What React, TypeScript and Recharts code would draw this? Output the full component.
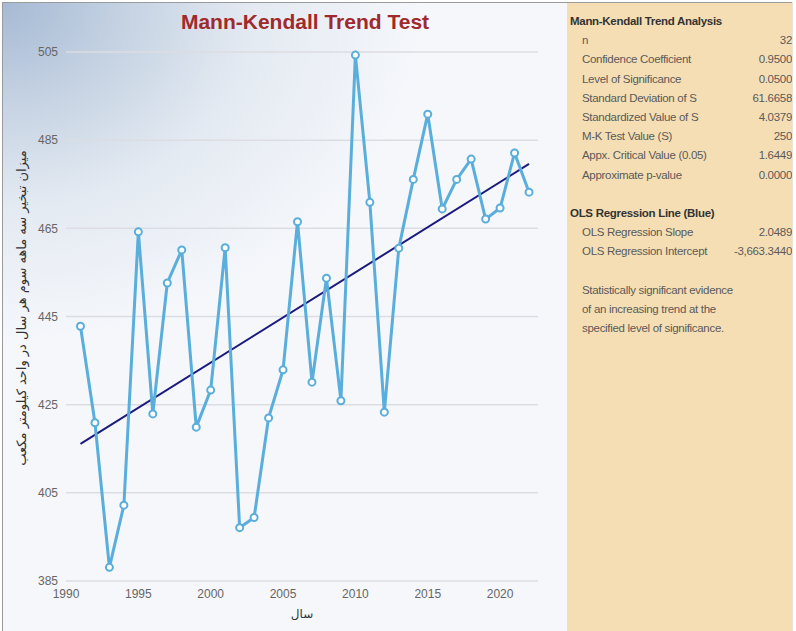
import { LineChart, Line, XAxis, YAxis, CartesianGrid } from "recharts";

// third-quarter evaporation, one point per year
const years = [
  1991, 1992, 1993, 1994, 1995, 1996, 1997, 1998, 1999, 2000, 2001, 2002,
  2003, 2004, 2005, 2006, 2007, 2008, 2009, 2010, 2011, 2012, 2013, 2014,
  2015, 2016, 2017, 2018, 2019, 2020, 2021, 2022,
];
const evaporation = [
  442.8, 420.9, 388.1, 402.2, 464.2, 422.9, 452.6, 460.1, 419.9, 428.3,
  460.6, 397.1, 399.4, 422.0, 432.9, 466.5, 430.1, 453.7, 425.9, 504.3,
  470.9, 423.3, 460.5, 476.1, 490.9, 469.4, 476.1, 480.7, 467.1, 469.6,
  482.1, 473.2,
];
// OLS line ends (first and last year)
const trendYears = [1991, 2022];
const trendValues = [416.1, 479.6];

const xTicks = [1990, 1995, 2000, 2005, 2010, 2015, 2020];
const yTicks = [385, 405, 425, 445, 465, 485, 505];

const mkRows: [string, string][] = [
  ["n", "32"],
  ["Confidence Coefficient", "0.9500"],
  ["Level of Significance", "0.0500"],
  ["Standard Deviation of S", "61.6658"],
  ["Standardized Value of S", "4.0379"],
  ["M-K Test Value (S)", "250"],
  ["Appx. Critical Value (0.05)", "1.6449"],
  ["Approximate p-value", "0.0000"],
];
const olsRows: [string, string][] = [
  ["OLS Regression Slope", "2.0489"],
  ["OLS Regression Intercept", "-3,663.3440"],
];
const note = [
  "Statistically significant evidence",
  "of an increasing trend at the",
  "specified level of significance.",
];

const data = years.map((year, i) => {
  const t = trendYears.indexOf(year);
  return { year, value: evaporation[i], trend: t >= 0 ? trendValues[t] : null };
});

const font = "'Liberation Sans', Arial, sans-serif";
const tick = { fontSize: 12, fill: "#666", fontFamily: font };
const LH = 19.2;

function Row({ label, value }: { label: string; value: string }) {
  return (
    <div style={{ display: "flex", justifyContent: "space-between", height: LH, lineHeight: LH + "px", paddingLeft: 12, color: "#5a5a5a" }}>
      <span>{label}</span>
      <span>{value}</span>
    </div>
  );
}

export default function App() {
  return (
    <div style={{ position: "absolute", left: 0, top: 0, width: 796, height: 631, background: "#fff", overflow: "hidden" }}>
      <div
        style={{
          position: "absolute",
          left: 2,
          top: 2,
          width: 565,
          height: 629,
          borderLeft: "1px solid #9a9a9a",
          borderTop: "1px solid #9a9a9a",
          boxSizing: "border-box",
          background:
            "radial-gradient(ellipse 420px 340px at 0 0, #a6bad4 0%, #c6d3e3 30%, #e4eaf2 60%, #f5f7fb 100%)",
        }}
      />
      <div style={{ position: "absolute", left: 0, top: 0 }}>
        <LineChart width={566} height={631} data={data} margin={{ top: 52, right: 28, bottom: 0, left: 0 }}>
          <text x={305} y={29} textAnchor="middle" fontFamily={font} fontWeight="bold" fontSize={21} fill="#a0292c">
            Mann-Kendall Trend Test
          </text>
          <CartesianGrid vertical={false} stroke="#dcdde2" strokeWidth={1.5} />
          <XAxis
            type="number"
            dataKey="year"
            domain={[1990, 2022.62]}
            ticks={xTicks}
            height={50}
            axisLine={false}
            tickLine={false}
            tick={tick}
            label={{
              content: () => (
                <text x={302} y={618} textAnchor="middle" fontFamily="'DejaVu Sans', sans-serif" fontSize={12} fill="#333">
                  سال
                </text>
              ),
            }}
          />
          <YAxis
            type="number"
            domain={[385, 505]}
            ticks={yTicks}
            width={66}
            axisLine={false}
            tickLine={false}
            tick={tick}
            label={{
              content: () => (
                <text
                  x={21}
                  y={308}
                  transform="rotate(-90 21 308)"
                  textAnchor="middle"
                  dominantBaseline="central"
                  fontFamily="'DejaVu Sans', sans-serif"
                  fontSize={13}
                  fill="#333"
                >
                  میزان تبخیر سه ماهه سوم هر سال در واحد کیلومتر مکعب
                </text>
              ),
            }}
          />
          <Line
            dataKey="trend"
            stroke="#1b1b7e"
            strokeWidth={2}
            dot={false}
            connectNulls
            isAnimationActive={false}
          />
          <Line
            dataKey="value"
            stroke="#5aaedb"
            strokeWidth={3}
            dot={{ r: 3.5, fill: "#fff", stroke: "#5aaedb", strokeWidth: 2 }}
            isAnimationActive={false}
          />
        </LineChart>
      </div>
      <div
        style={{
          position: "absolute",
          left: 567,
          top: 2,
          width: 225,
          height: 629,
          background: "#f5deb3",
          borderTop: "1px solid #9a9a9a",
          boxSizing: "border-box",
          padding: "9px 0 0 3px",
          fontFamily: font,
          fontSize: 11.5,
          letterSpacing: -0.3,
        }}
      >
        <div style={{ height: LH, lineHeight: LH + "px", fontWeight: "bold", color: "#333" }}>Mann-Kendall Trend Analysis</div>
        {mkRows.map(([l, v]) => (
          <Row key={l} label={l} value={v} />
        ))}
        <div style={{ height: LH }} />
        <div style={{ height: LH, lineHeight: LH + "px", fontWeight: "bold", color: "#333" }}>OLS Regression Line (Blue)</div>
        {olsRows.map(([l, v]) => (
          <Row key={l} label={l} value={v} />
        ))}
        <div style={{ height: LH }} />
        {note.map((s) => (
          <div key={s} style={{ height: LH, lineHeight: LH + "px", paddingLeft: 12, color: "#5a5a5a" }}>
            {s}
          </div>
        ))}
      </div>
      <div style={{ position: "absolute", left: 792, top: 2, width: 1, height: 629, background: "#e8e4dc" }} />
    </div>
  );
}
